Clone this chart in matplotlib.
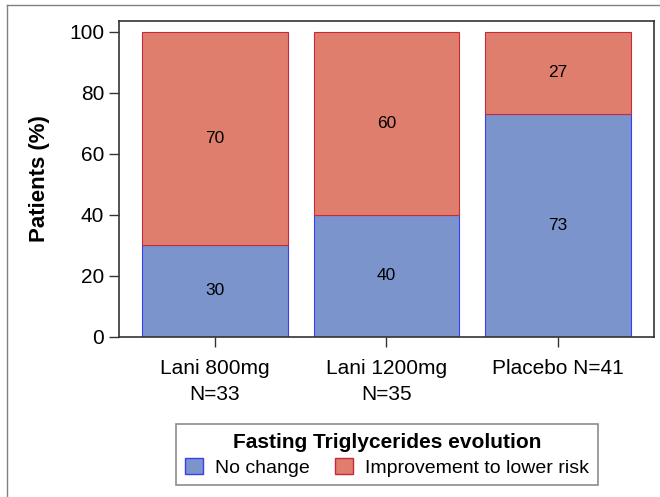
import matplotlib.pyplot as plt
import matplotlib.patches as mpatches
import numpy as np

plt.rcParams['font.family'] = ['Liberation Sans', 'DejaVu Sans']

groups = ['Lani 800mg\nN=33', 'Lani 1200mg\nN=35', 'Placebo N=41']
no_change = [30, 40, 73]
improvement = [70, 60, 27]
series_names = ['No change', 'Improvement to lower risk']
legend_title = 'Fasting Triglycerides evolution'

blue = '#7b95cc'
blue_edge = '#3c3cf0'
red = '#e07e6e'
red_edge = '#c8283c'

fig = plt.figure(figsize=(6.6, 4.97), dpi=100)
ax = fig.add_axes([0.180, 0.3225, 0.811, 0.6352])

x = np.arange(len(groups))
nc = np.array(no_change)
im = np.array(improvement)
ax.bar(x, nc, width=0.85, color=blue, edgecolor=blue_edge, linewidth=0.8,
       label=series_names[0])
ax.bar(x, im, width=0.85, bottom=nc, color=red, edgecolor=red_edge,
       linewidth=0.8, label=series_names[1])

for i in range(len(groups)):
    ax.text(x[i], nc[i] / 2, str(nc[i]), ha='center', va='center', fontsize=12.5)
    ax.text(x[i], nc[i] + im[i] / 2, str(im[i]), ha='center', va='center',
            fontsize=12.5)

ax.set_xlim(-0.56, 2.56)
ax.set_ylim(0, 103.5)
ax.set_yticks([0, 20, 40, 60, 80, 100])
ax.set_xticks(x)
ax.set_xticklabels(groups, linespacing=1.45)
ax.tick_params(axis='both', labelsize=15, length=7, width=1, color='#333333')
ax.tick_params(axis='x', pad=9)
ax.set_ylabel('Patients (%)', fontsize=16, fontweight='bold', labelpad=14)
for s in ax.spines.values():
    s.set_color('#333333')
    s.set_linewidth(1.2)

handles = [mpatches.Patch(facecolor=blue, edgecolor=blue_edge),
           mpatches.Patch(facecolor=red, edgecolor=red_edge)]
leg = fig.legend(handles, series_names, title=legend_title, ncol=2,
                 loc='upper center', bbox_to_anchor=(0.586, 0.147),
                 borderaxespad=0,
                 fontsize=14, title_fontproperties={'weight': 'bold', 'size': 15},
                 frameon=True, fancybox=False, edgecolor='#707070',
                 handlelength=0.95, handleheight=0.95, columnspacing=1.3,
                 handletextpad=0.6, borderpad=0.45, labelspacing=0.3)
leg.get_frame().set_linewidth(1.2)

# outer border of the picture
fig.add_artist(plt.Line2D([7 / 660, 7 / 660], [0, 1 - 5 / 497],
                          transform=fig.transFigure, color='#808080', lw=1))
fig.add_artist(plt.Line2D([7 / 660, 1], [1 - 5 / 497, 1 - 5 / 497],
                          transform=fig.transFigure, color='#808080', lw=1))

fig.savefig('out.png', dpi=100)
